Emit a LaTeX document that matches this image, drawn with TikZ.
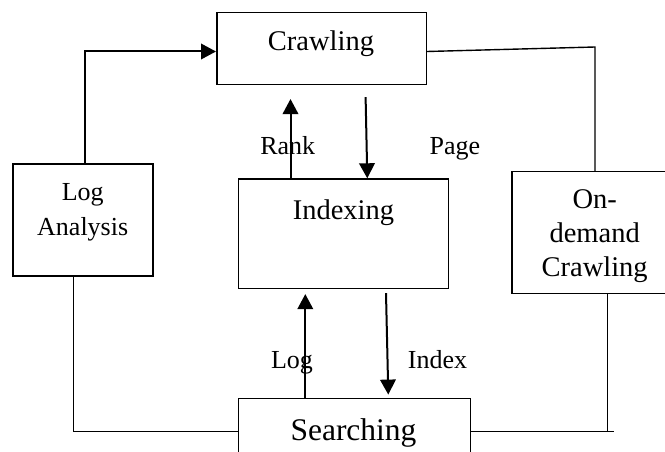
\documentclass[tikz,border=0pt]{standalone}
\usepackage{fontspec}
\setmainfont{Liberation Serif}
\usetikzlibrary{arrows.meta}
\tikzset{
  box/.style={draw,line width=1.5pt,inner sep=0pt},
  txt/.style={inner sep=0pt,anchor=base,align=center,font=\fontsize{28.5}{33.8}\selectfont},
  lbl/.style={inner sep=0pt,anchor=base,font=\fontsize{26}{31}\selectfont},
  arr/.style={line width=2pt,-{Triangle[length=15pt,width=15.5pt]}},
  con/.style={line width=1.4pt}
}
\begin{document}
\begin{tikzpicture}[x=1pt,y=-1pt]
\useasboundingbox (0,0) rectangle (665,452);
\node(crawl) at (321.5,48.5)[box,minimum width=209.5pt,minimum height=71.6pt]{};
\node(logan) at (83.1,219.9)[box,minimum width=140pt,minimum height=111.7pt]{};
\node(index) at (343.5,233.7)[box,minimum width=210.4pt,minimum height=109.3pt]{};
\node(ondemand) at (592,232.5)[box,minimum width=160pt,minimum height=121.6pt]{};
\node(search) at (354.5,431.7)[box,minimum width=232.3pt,minimum height=66.7pt]{};
% box texts
\node(crawltxt) at (321,50.7)[txt]{Crawling};
\node(logantxt) at (82.7,235)[txt,font=\fontsize{26}{35}\selectfont]{Log\\Analysis};
\node(indextxt) at (343.5,219)[txt]{Indexing};
\node(ondemandtxt) at (594.7,276)[txt]{On-\\demand\\Crawling};
\node(searchtxt) at (353.5,440)[txt,font=\fontsize{31.5}{36}\selectfont]{Searching};
% labels
\node(rank) at (287.7,154)[lbl]{Rank};
\node(page) at (455,154)[lbl]{Page};
\node(log) at (292,368)[lbl]{Log};
\node(idx) at (437.5,368)[lbl]{Index};
% arrows
\draw[arr] (index.north -| 290.5,0) -- ([yshift=-14pt]crawl.south -| 290.5,0);
\draw[arr] ([yshift=-12pt]crawl.south -| 365.6,0) -- (index.north -| 367.3,0);
\draw[arr] (search.north -| 305.3,0) -- ([yshift=-5pt]index.south -| 305.3,0);
\draw[arr] ([yshift=-4pt]index.south -| 386,0) -- ([yshift=3pt]search.north -| 388.3,0);
\draw[arr] (logan.north -| 84.8,0) |- ([yshift=-3pt]crawl.west);
% plain connectors
\coordinate(bend) at (595,47);
\coordinate(odend) at (614,431.7);
\draw[con] ([yshift=-3pt]crawl.east) -- (bend) -- (ondemand.north -| bend);
\draw[con] (ondemand.south -| 607.7,0) |- (search.east) (search.east) -- (odend);
\draw[con] (logan.south -| 73.4,0) |- (search.west);
\end{tikzpicture}
\end{document}
